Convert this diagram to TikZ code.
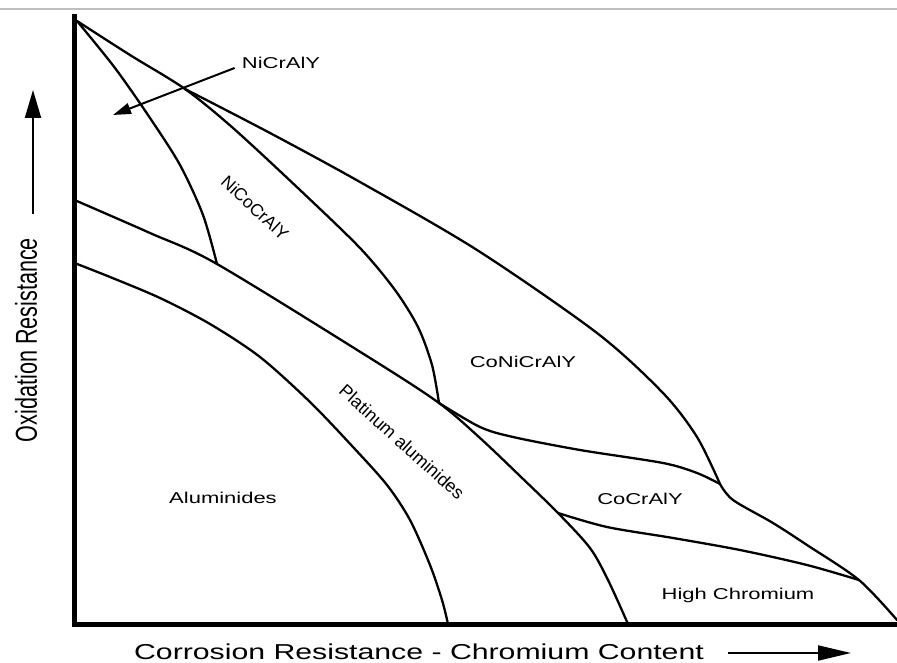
\documentclass[tikz,border=0pt]{standalone}
\usepackage{fontspec}
\setmainfont{Liberation Sans}
\usetikzlibrary{arrows.meta}
\begin{document}
\begin{tikzpicture}[x=1pt,y=-1pt,
  curve/.style={line width=2.3pt, line join=round, line cap=round},
  axisline/.style={line width=5pt, line join=miter},
  lbl/.style={font=\fontsize{15.7}{18}\selectfont, xscale=1.4, inner sep=0pt},
  rlbl/.style={inner sep=0pt},
  axlbl/.style={font=\fontsize{21.6}{24}\selectfont, xscale=1.4, inner sep=0pt},
  leader/.style={line width=2pt, -{Triangle[length=18pt,width=11pt]}},
  axarrowv/.style={line width=2pt, -{Triangle[length=28pt,width=16pt]}},
  axarrowh/.style={line width=2pt, -{Triangle[length=33pt,width=15pt]}}]
\useasboundingbox (0,0) rectangle (897,663);
\draw[black!25, line width=1.2pt] (0,9) -- (897,9);

% key points
\coordinate (T) at (74.5,14);
\coordinate (O) at (74.5,624);
\coordinate (E) at (897,624);
\coordinate (C0) at (77,21);
\coordinate (J1) at (185,89);
\coordinate (J2) at (217,264);
\coordinate (J3) at (439,403);
\coordinate (J4) at (558,513);
\coordinate (J5) at (720,484);
\coordinate (J6) at (859,580);
\coordinate (P0) at (74.5,200);
\coordinate (A0) at (74.5,263);
\coordinate (B1) at (448,624);
\coordinate (B2) at (628,624);
\coordinate (B3) at (897,620);

% axes
\draw[axisline] (T) -- (O) -- (E);

% top line from the corner, continuing as the NiCoCrAlY / CoNiCrAlY divider
\draw[curve] plot[smooth] coordinates {(C0) (130,55) (J1) (233,128) (300,190) (360,248) (395,290) (418,327) (432,365) (J3)};
% outer boundary
\draw[curve] plot[smooth] coordinates {(J1) (270,133) (360,182) (477,250) (597,333) (663,393) (697,437) (J5)};
\draw[curve] plot[smooth] coordinates {(J5) (733,500) (773,523) (807,545) (J6) (B3)};
% NiCoCrAlY left boundary
\draw[curve] plot[smooth] coordinates {(C0) (115,68) (150,118) (180,165) (203,215) (J2)};
% platinum aluminides upper boundary
\draw[curve] plot[smooth] coordinates {(P0) (150,233) (J2) (370,358) (J3) (480,438) (520,476) (J4) (590,548) (608,580) (B2)};
% aluminides boundary
\draw[curve] plot[smooth] coordinates {(A0) (110,277) (160,298) (210,324) (260,357) (310,402) (353,447) (387,485) (410,520) (430,565) (442,600) (B1)};
% CoNiCrAlY / CoCrAlY divider
\draw[curve] plot[smooth] coordinates {(J3) (480,427) (513,437) (580,450) (663,463) (697,473) (J5)};
% CoCrAlY / High Chromium divider
\draw[curve] plot[smooth] coordinates {(J4) (607,527) (673,538) (740,550) (807,565) (J6)};

% labels
\node[lbl] (nicr) at (281,63) {NiCrAlY};
\coordinate (nicrtip) at (113,115);
\draw[leader] (nicr.south west) ++(-7,-1) -- (nicrtip);
\node[rlbl, font=\fontsize{17.5}{20}\selectfont, rotate=-43] (nico) at (255,208) {NiCoCrAlY};
\node[lbl] (coni) at (523,362) {CoNiCrAlY};
\node[rlbl, font=\fontsize{18}{20}\selectfont, rotate=-42] (plat) at (402,442) {Platinum aluminides};
\node[lbl] (alum) at (223,498) {Aluminides};
\node[lbl] (cocr) at (640,499) {CoCrAlY};
\node[lbl] (highcr) at (738,595) {High Chromium};

% axis titles
\node[axlbl, rotate=90] (ylab) at (26,340) {Oxidation Resistance};
\coordinate (ytail) at (33,214);
\coordinate (ytip) at (33,90);
\draw[axarrowv] (ytail) -- (ytip);
\node[axlbl] (xlab) at (419,652) {Corrosion Resistance - Chromium Content};
\coordinate (xtail) at (728,653);
\coordinate (xtip) at (851,653);
\draw[axarrowh] (xtail) -- (xtip);
\end{tikzpicture}
\end{document}
